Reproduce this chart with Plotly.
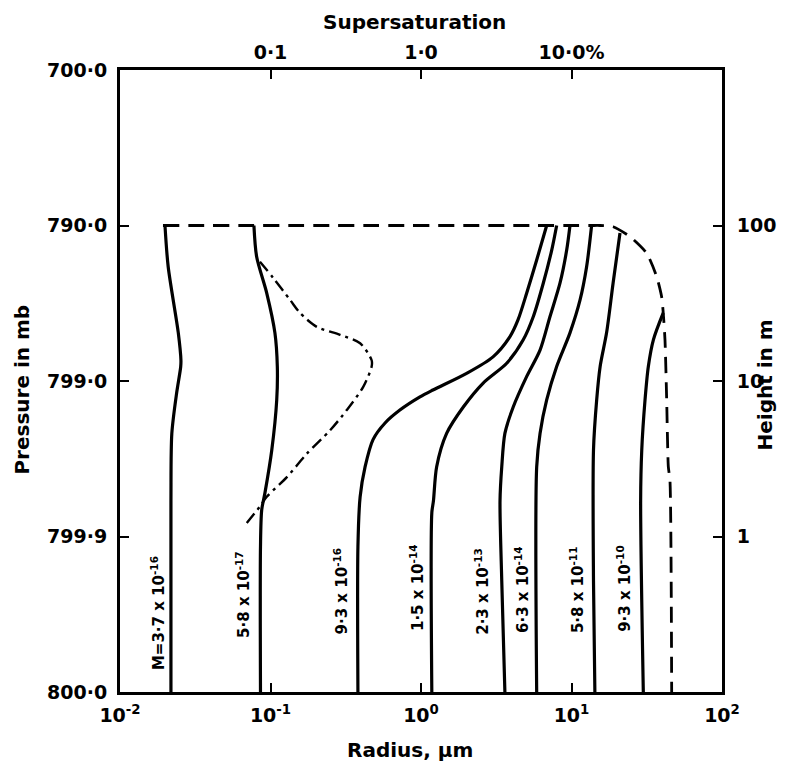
import math
import plotly.graph_objects as go

# ---------------- data (radius in µm, height in m) ----------------
r_m1 = [0.0199, 0.0209, 0.0244, 0.0254, 0.0253, 0.0238, 0.0221, 0.0218, 0.0218]
h_m1 = [100, 54.3, 20.4, 13.6, 12.3, 8.4, 4.6, 1.7, 0.1]

r_m2 = [0.0776, 0.0809, 0.0944, 0.107, 0.111, 0.110, 0.102, 0.0918, 0.0874, 0.0858, 0.0858]
h_m2 = [100, 63.0, 36.8, 20.4, 12.4, 7.55, 3.6, 1.9, 1.48, 0.86, 0.1]

r_m3 = [6.84, 5.87, 5.04, 4.41, 3.90, 3.01, 2.01, 1.20, 0.984, 0.724, 0.577, 0.480, 0.425, 0.394, 0.381, 0.381]
h_m3 = [100, 60.0, 36.8, 24.7, 19.3, 14.3, 11.2, 8.75, 7.9, 6.5, 5.37, 4.2, 2.8, 1.8, 0.86, 0.1]

r_m4 = [7.97, 7.39, 6.50, 5.57, 4.78, 3.71, 2.59, 1.91, 1.48, 1.27, 1.21, 1.18, 1.18]
h_m4 = [100, 69.5, 42.7, 25.9, 18.4, 13.0, 9.7, 6.8, 4.6, 2.8, 1.7, 1.42, 0.1]

r_m5 = [9.77, 9.29, 8.39, 7.19, 6.18, 5.04, 4.10, 3.61, 3.44, 3.35, 3.44, 3.61]
h_m5 = [100, 69.5, 42.7, 25.9, 15.8, 10.7, 6.8, 4.6, 2.8, 1.7, 0.52, 0.1]

r_m6 = [13.6, 12.6, 11.4, 9.77, 7.97, 6.84, 6.18, 5.87, 5.87]
h_m6 = [100, 54.3, 33.2, 20.4, 12.4, 7.55, 4.6, 2.8, 0.1]

r_m7 = [21.0, 18.9, 17.1, 15.5, 14.7, 14.0, 14.0, 14.3]
h_m7 = [89.5, 42.7, 20.4, 12.4, 7.55, 3.6, 0.52, 0.1]

r_m8 = [40.7, 35.0, 32.4, 30.8, 29.3, 28.8, 30.0]
h_m8 = [27.4, 18.4, 12.4, 7.55, 3.6, 1.7, 0.1]

# dashed envelope
r_env = [0.0193, 13.3, 15.5, 18.9, 24.5, 31.6, 36.8, 39.7, 40.7, 41.8, 42.9, 44.0, 45.1, 46.3]
h_env = [100, 100, 100, 98.2, 84.7, 66.3, 46.9, 34.8, 27.4, 18.4, 7.55, 2.8, 2.3, 0.1]

# dash-dot curve
r_dd = [0.0851, 0.1045, 0.135, 0.157, 0.203, 0.290, 0.394, 0.470, 0.470, 0.414, 0.321, 0.248, 0.174, 0.128, 0.0944, 0.0851, 0.0695]
h_dd = [58.5, 45.9, 33.2, 27.4, 22.3, 19.8, 17.5, 13.6, 12.4, 9.2, 6.5, 4.8, 3.4, 2.4, 1.8, 1.56, 1.22]

# curve labels
label_text = ["M=3·7 x 10<sup>-16</sup>", "5·8 x 10<sup>-17</sup>", "9·3 x 10<sup>-16</sup>",
              "1·5 x 10<sup>-14</sup>", "2·3 x 10<sup>-13</sup>", "6·3 x 10<sup>-14</sup>",
              "5·8 x 10<sup>-11</sup>", "9·3 x 10<sup>-10</sup>"]
label_r = [0.0179, 0.0656, 0.294, 0.94, 2.54, 4.69, 10.9, 22.3]
label_h = [0.322, 0.427, 0.45, 0.473, 0.447, 0.453, 0.453, 0.467]

# axis ticks
x_tickvals = [0.01, 0.1, 1, 10, 100]
x_ticktext = ["10<sup>-2</sup>", "10<sup>-1</sup>", "10<sup>0</sup>", "10<sup>1</sup>", "10<sup>2</sup>"]
top_tickvals = [0.1, 1, 10]
top_ticktext = ["0·1", "1·0", "10·0%"]
p_tickvals = [1000, 100, 10, 1, 0.1]
p_ticktext = ["700·0", "790·0", "799·0", "799·9", "800·0"]
h_tickvals = [100, 10, 1]
h_ticktext = ["100", "10", "1"]

FONT = "DejaVu Sans"

fig = go.Figure()

solid = [(r_m1, h_m1), (r_m2, h_m2), (r_m3, h_m3), (r_m4, h_m4),
         (r_m5, h_m5), (r_m6, h_m6), (r_m7, h_m7), (r_m8, h_m8)]
for r, h in solid:
    fig.add_trace(go.Scatter(x=r, y=h, mode="lines",
                             line=dict(color="black", width=3.2, shape="spline", smoothing=0.8),
                             showlegend=False, hoverinfo="skip"))

fig.add_trace(go.Scatter(x=r_env, y=h_env, mode="lines",
                         line=dict(color="black", width=2.8, dash="16px,9px", shape="spline", smoothing=0.6),
                         showlegend=False, hoverinfo="skip"))
fig.add_trace(go.Scatter(x=r_dd, y=h_dd, mode="lines",
                         line=dict(color="black", width=2.4, dash="12px,5px,3px,5px", shape="spline", smoothing=0.8),
                         showlegend=False, hoverinfo="skip"))

# invisible trace to activate secondary axes
fig.add_trace(go.Scatter(x=[1], y=[1], xaxis="x2", yaxis="y2", mode="markers",
                         marker=dict(opacity=0), showlegend=False, hoverinfo="skip"))

for t, r, h in zip(label_text, label_r, label_h):
    fig.add_annotation(x=math.log10(r), y=math.log10(h), xref="x", yref="y",
                       text=t, textangle=-90, showarrow=False,
                       xanchor="center", yanchor="middle",
                       font=dict(family=FONT, size=15, color="black", weight="bold"))

# axis titles
title_font = dict(family=FONT, size=20, color="black", weight="bold")
fig.add_annotation(x=0.49, y=1.077, xref="paper", yref="paper", text="Supersaturation",
                   showarrow=False, xanchor="center", yanchor="middle", font=title_font)
fig.add_annotation(x=-0.163, y=0.486, xref="paper", yref="paper", text="Pressure in mb",
                   textangle=-90, showarrow=False, xanchor="center", yanchor="middle", font=title_font)
fig.add_annotation(x=1.071, y=0.494, xref="paper", yref="paper", text="Height in m",
                   textangle=-90, showarrow=False, xanchor="center", yanchor="middle", font=title_font)
fig.add_annotation(x=0.482, y=-0.093, xref="paper", yref="paper", text="Radius, μm",
                   showarrow=False, xanchor="center", yanchor="middle", font=title_font)

tickfont = dict(family=FONT, size=19, color="black", weight="bold")
axis_common = dict(type="log", ticks="inside", ticklen=9, tickwidth=2.2, tickcolor="black",
                   showline=True, linecolor="black", linewidth=3,
                   showgrid=False, zeroline=False, tickfont=tickfont)

fig.update_layout(
    width=788, height=763,
    margin=dict(l=112, r=74, t=62, b=79, autoexpand=False),
    paper_bgcolor="white", plot_bgcolor="white",
    xaxis=dict(range=[-2, 2], tickvals=x_tickvals, ticktext=x_ticktext,
               ticklabelstandoff=4, **axis_common),
    xaxis2=dict(range=[-2, 2], overlaying="x", side="top",
                tickvals=top_tickvals, ticktext=top_ticktext,
                ticklabelstandoff=0, **axis_common),
    yaxis=dict(range=[-1, 3], tickvals=p_tickvals, ticktext=p_ticktext,
               ticklabelstandoff=6, **axis_common),
    yaxis2=dict(range=[-1, 3], overlaying="y", side="right",
                tickvals=h_tickvals, ticktext=h_ticktext,
                ticklabelstandoff=8, **axis_common),
)

fig.write_html("out.html")
